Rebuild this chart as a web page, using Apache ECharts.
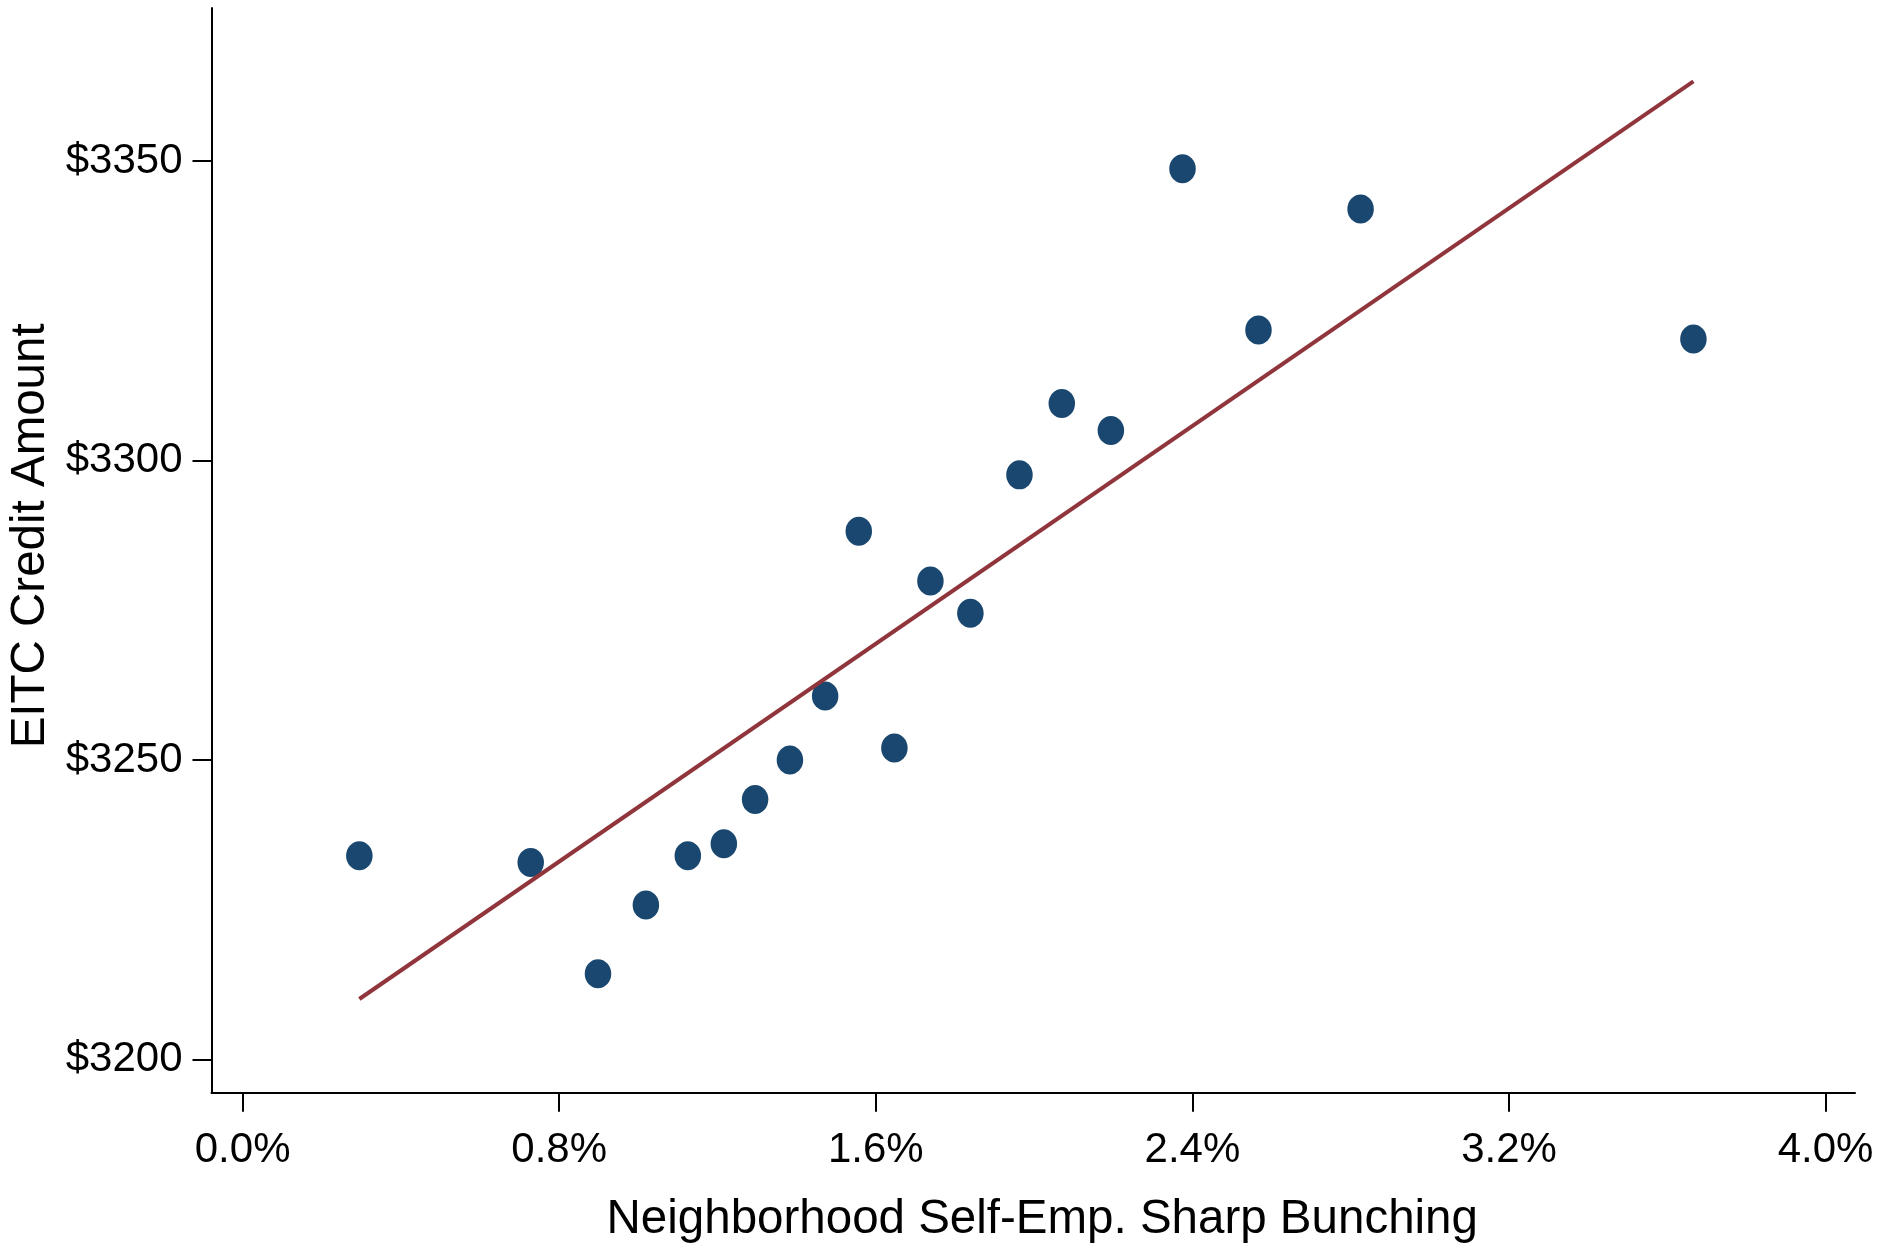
<!DOCTYPE html>
<html>
<head>
<meta charset="utf-8">
<title>EITC Credit Amount vs Neighborhood Self-Employment Bunching</title>
<script src="https://cdn.jsdelivr.net/npm/echarts@6/dist/echarts.min.js"></script>
<style>
  html, body { margin: 0; padding: 0; background: #ffffff; }
  #chart { width: 1883px; height: 1246px; }
</style>
</head>
<body>
<div id="chart"></div>
<script>
// Binned means: share of neighborhood self-employed with sharp bunching (%)
const bunching = [0.295, 0.728, 0.898, 1.019, 1.125, 1.216, 1.295, 1.383, 1.472, 1.557,
                  1.647, 1.738, 1.839, 1.963, 2.070, 2.194, 2.375, 2.567, 2.825, 3.666];
// Mean EITC credit amount ($) in each bin
const eitcAmount = [3234.0, 3232.9, 3214.3, 3225.8, 3234.0, 3236.0, 3243.4, 3250.0, 3260.7, 3288.2,
                    3252.0, 3279.9, 3274.5, 3297.6, 3309.5, 3305.0, 3348.7, 3321.8, 3342.0, 3320.3];
// Linear fit, evaluated at the ends of the data range
const fitX = [0.295, 3.666];
const fitY = [3210.1, 3363.3];
// Tick labels
const xTicks = [0, 0.8, 1.6, 2.4, 3.2, 4.0];
const yTicks = [3200, 3250, 3300, 3350];

const X_MIN = -0.0786, X_MAX = 4.0743;
const Y_MIN = 3194.46, Y_MAX = 3375.54;
const GRID_X0 = -0.06, GRID_X1 = 4.084;

const FONT = "'Liberation Sans', Arial, Helvetica, sans-serif";
const NAVY = '#1a476f';
const MAROON = '#90353b';
const GRIDLINE = '#e6eef0';

const points = bunching.map((x, i) => [x, eitcAmount[i]]);
const fitLine = fitX.map((x, i) => [x, fitY[i]]);

const chart = echarts.init(document.getElementById('chart'), null, { renderer: 'canvas' });

chart.setOption({
  backgroundColor: '#ffffff',
  animation: false,
  grid: {
    left: 211.5, right: 28, top: 8, bottom: 153.3,
    containLabel: false,
    outerBoundsMode: 'none'
  },
  xAxis: {
    type: 'value',
    min: X_MIN, max: X_MAX,
    name: 'Neighborhood Self-Emp. Sharp Bunching',
    nameLocation: 'middle',
    nameGap: 103.5,
    nameTextStyle: { fontFamily: FONT, fontSize: 47.5, color: '#000', padding: [0, 0, 0, 18] },
    axisLine: { show: true, onZero: false, lineStyle: { color: '#000', width: 2 } },
    axisTick: { show: true, inside: false, length: 19, lineStyle: { color: '#000', width: 2 },
                customValues: xTicks },
    axisLabel: { show: true, margin: 37, fontFamily: FONT, fontSize: 42, color: '#000',
                 customValues: xTicks,
                 formatter: v => v.toFixed(1) + '%' },
    splitLine: { show: false }
  },
  yAxis: {
    type: 'value',
    min: Y_MIN, max: Y_MAX,
    name: 'EITC Credit Amount',
    nameLocation: 'middle',
    nameRotate: 90,
    nameGap: 151,
    nameTextStyle: { fontFamily: FONT, fontSize: 47.5, color: '#000', padding: [0, 0, 0, 29] },
    axisLine: { show: true, onZero: false, lineStyle: { color: '#000', width: 2 } },
    axisTick: { show: true, inside: false, length: 19, lineStyle: { color: '#000', width: 2 },
                customValues: yTicks },
    axisLabel: { show: true, margin: 29, fontFamily: FONT, fontSize: 42, color: '#000',
                 customValues: yTicks,
                 formatter: v => '$' + Math.round(v) },
    splitLine: { show: false }
  },
  series: [
    {
      // horizontal grid lines at the labelled y values
      type: 'line',
      data: [],
      silent: true,
      z: 1,
      markLine: {
        silent: true,
        symbol: ['none', 'none'],
        label: { show: false },
        lineStyle: { color: GRIDLINE, width: 4, type: 'solid' },
        data: yTicks.map(v => [{ coord: [GRID_X0, v] }, { coord: [GRID_X1, v] }])
      }
    },
    {
      type: 'scatter',
      data: points,
      symbol: 'circle',
      symbolSize: [26.5, 29],
      itemStyle: { color: NAVY, opacity: 1 },
      z: 3
    },
    {
      type: 'line',
      data: fitLine,
      showSymbol: false,
      symbol: 'none',
      lineStyle: { color: MAROON, width: 4 },
      z: 4
    }
  ]
});
</script>
</body>
</html>
